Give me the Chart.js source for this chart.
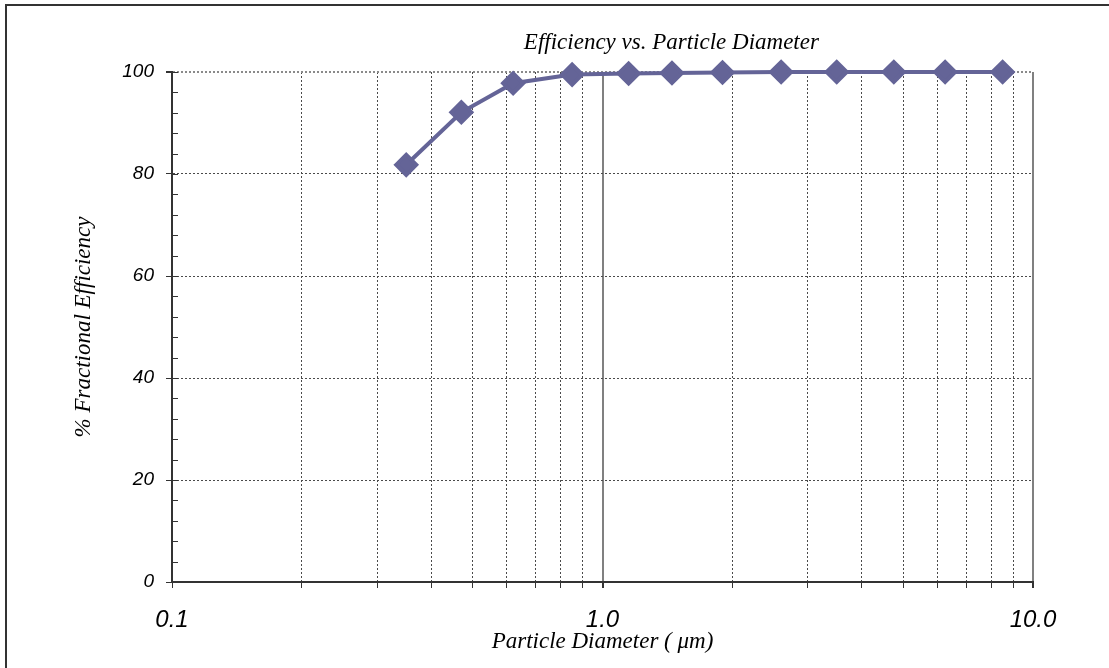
<!DOCTYPE html>
<html>
<head>
<meta charset="utf-8">
<script src="https://cdn.jsdelivr.net/npm/chart.js@4.4.0/dist/chart.umd.min.js"></script>
<style>
  html, body { margin: 0; padding: 0; background: #fff; }
  #wrap { width: 1109px; height: 668px; position: relative; }
</style>
</head>
<body>
<div id="wrap"><canvas id="chart"></canvas></div>
<script>
// DATA
const diameters = [0.35, 0.47, 0.62, 0.85, 1.15, 1.45, 1.9, 2.6, 3.5, 4.75, 6.25, 8.5];
const efficiency = [81.8, 92.1, 97.8, 99.5, 99.7, 99.8, 99.9, 100, 100, 100, 100, 100];
const xTicks = [0.1, 0.2, 0.3, 0.4, 0.5, 0.6, 0.7, 0.8, 0.9, 1, 2, 3, 4, 5, 6, 7, 8, 9, 10];
const xLabels = { 0.1: '0.1', 1: '1.0', 10: '10.0' };
const yTicks = [0, 4, 8, 12, 16, 20, 24, 28, 32, 36, 40, 44, 48, 52, 56, 60, 64, 68, 72, 76, 80, 84, 88, 92, 96, 100];

const TITLE = 'Efficiency vs. Particle Diameter';
const X_TITLE = 'Particle Diameter ( \u03BCm)';
const Y_TITLE = '% Fractional Efficiency';

// STYLE
const THEME = {
    series: '#646497',
    axis: '#333333',
    grid: '#4a4a4a',
    frame: '#808080',
    sans: '"Liberation Sans", Arial, sans-serif',
    serif: '"Liberation Serif", "Times New Roman", serif'
};

const isMajorY = v => v % 20 === 0;

// outer frame, title, inner minor ticks
const decor = {
    id: 'decor',
    beforeDraw(chart) {
        const c = chart.ctx;
        c.save();
        c.strokeStyle = '#333';
        c.lineWidth = 2;
        c.beginPath();
        c.moveTo(6, chart.height);
        c.lineTo(6, 5);
        c.lineTo(chart.width, 5);
        c.stroke();
        c.restore();
    },
    afterDatasetsDraw(chart) {
        const c = chart.ctx;
        const y = chart.scales.y;
        const area = chart.chartArea;
        c.save();
        c.strokeStyle = THEME.axis;
        c.lineWidth = 1;
        c.beginPath();
        yTicks.forEach(v => {
            const py = Math.round(y.getPixelForValue(v)) + 0.5;
            c.moveTo(area.left, py);
            c.lineTo(area.left + 6, py);
        });
        c.stroke();

        c.fillStyle = '#000';
        c.font = 'italic 23px ' + THEME.serif;
        c.textAlign = 'center';
        c.textBaseline = 'alphabetic';
        c.fillText(TITLE, area.left + area.width * 0.58, 49);
        c.restore();
    }
};

new Chart(document.getElementById('chart'), {
    type: 'line',
    data: {
        datasets: [{
            data: diameters.map((d, i) => ({ x: d, y: efficiency[i] })),
            borderColor: THEME.series,
            backgroundColor: THEME.series,
            borderWidth: 4,
            pointStyle: 'rectRot',
            pointRadius: 10,
            pointHoverRadius: 10,
            tension: 0,
            clip: false
        }]
    },
    options: {
        responsive: true,
        maintainAspectRatio: false,
        animation: false,
        layout: { padding: { top: 72, right: 76, left: 0, bottom: 0 } },
        plugins: {
            legend: { display: false },
            tooltip: { enabled: false },
            title: { display: false }
        },
        scales: {
            x: {
                type: 'logarithmic',
                min: 0.1,
                max: 10,
                afterBuildTicks: s => { s.ticks = xTicks.map(v => ({ value: v })); },
                afterFit: s => { s.height = 86; },
                ticks: {
                    autoSkip: false,
                    maxRotation: 0,
                    padding: 18,
                    color: '#000',
                    font: { family: THEME.sans, size: 24, style: 'italic' },
                    callback: v => xLabels[v] || ''
                },
                grid: {
                    color: ctx => {
                        const v = ctx.tick && ctx.tick.value;
                        if (v === 0.1) return 'transparent';
                        if (v === 1 || v === 10) return THEME.frame;
                        return THEME.grid;
                    },
                    lineWidth: ctx => (ctx.tick && (ctx.tick.value === 1 || ctx.tick.value === 10)) ? 2 : 1,
                    tickColor: THEME.axis,
                    tickLength: 6
                },
                border: {
                    color: THEME.axis,
                    width: 2,
                    dash: ctx => (ctx.tick && ctx.tick.value !== 1 && ctx.tick.value !== 10) ? [2, 2] : []
                },
                title: {
                    display: true,
                    text: X_TITLE,
                    color: '#000',
                    font: { family: THEME.serif, size: 23, style: 'italic' },
                    padding: { top: 0, bottom: 12 }
                }
            },
            y: {
                min: 0,
                max: 100,
                afterBuildTicks: s => { s.ticks = yTicks.map(v => ({ value: v })); },
                afterFit: s => { s.width = 172; },
                ticks: {
                    autoSkip: false,
                    padding: 12,
                    color: '#000',
                    font: { family: THEME.sans, size: 19, style: 'italic' },
                    callback: v => isMajorY(v) ? String(v) : ''
                },
                grid: {
                    color: ctx => {
                        const v = ctx.tick && ctx.tick.value;
                        if (!isMajorY(v) || v === 0) return 'transparent';
                        if (v === 100) return '#8a8a8a';
                        return THEME.grid;
                    },
                    lineWidth: ctx => (ctx.tick && ctx.tick.value === 100) ? 2 : 1,
                    tickColor: ctx => isMajorY(ctx.tick && ctx.tick.value) ? THEME.axis : 'transparent',
                    tickLength: 6
                },
                border: {
                    color: THEME.axis,
                    width: 2,
                    dash: ctx => ctx.tick ? [2, 2] : []
                },
                title: {
                    display: true,
                    text: Y_TITLE,
                    color: '#000',
                    font: { family: THEME.serif, size: 23, style: 'italic' },
                    padding: { top: 70, bottom: 0 }
                }
            }
        }
    },
    plugins: [decor]
});
</script>
</body>
</html>
